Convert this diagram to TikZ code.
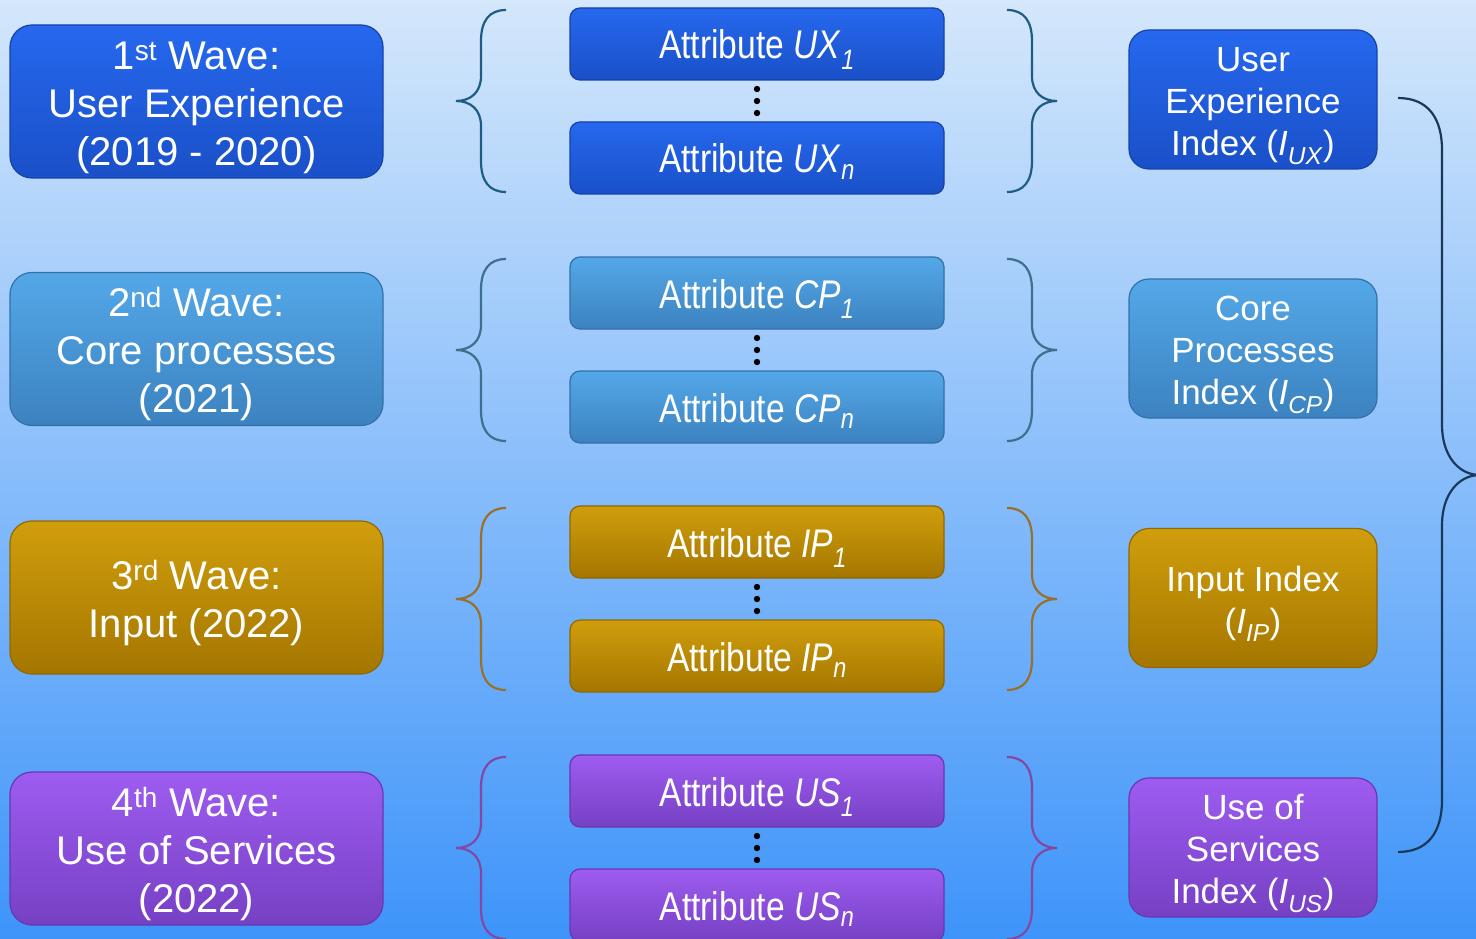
\documentclass[tikz,border=0pt]{standalone}
\usepackage{fontspec}
\setmainfont{Liberation Sans}
\newfontfamily\narrowfont[FakeStretch=0.84]{Liberation Sans}
\usetikzlibrary{positioning}
\newcommand{\topgap}[1]{\rule{0pt}{#1}}

\definecolor{bgtop}{RGB}{212,231,251}
\definecolor{bgbot}{RGB}{62,148,250}
\definecolor{uxtop}{RGB}{38,104,238}
\definecolor{uxbot}{RGB}{26,80,200}
\definecolor{uxedge}{RGB}{22,66,170}
\definecolor{uxbrace}{RGB}{30,92,132}
\definecolor{cptop}{RGB}{84,168,232}
\definecolor{cpbot}{RGB}{60,130,192}
\definecolor{cpedge}{RGB}{52,112,168}
\definecolor{cpbrace}{RGB}{62,112,142}
\definecolor{iptop}{RGB}{208,158,12}
\definecolor{ipbot}{RGB}{164,118,0}
\definecolor{ipedge}{RGB}{146,104,0}
\definecolor{ipbrace}{RGB}{152,112,44}
\definecolor{ustop}{RGB}{158,92,240}
\definecolor{usbot}{RGB}{118,64,196}
\definecolor{usedge}{RGB}{104,56,176}
\definecolor{usbrace}{RGB}{130,72,162}
\definecolor{bigbrace}{RGB}{26,56,88}

\begin{document}
\begin{tikzpicture}[x=1pt,y=-1pt,
    fillrow/.style={top color=#1top, bottom color=#1bot, draw=#1edge, line width=1.2pt},
    wave/.style={rounded corners=22pt, minimum width=373pt, minimum height=153pt, inner sep=0pt,
        text=white, align=center, font=\fontsize{40}{48}\selectfont},
    attr/.style={rounded corners=10pt, minimum width=374pt, minimum height=72pt, inner sep=0pt,
        text=white, font=\narrowfont\fontsize{40}{48}\selectfont, text height=38pt, text depth=8pt},
    index/.style={rounded corners=20pt, minimum width=248pt, minimum height=139pt, inner sep=0pt,
        text=white, align=center, font=\fontsize{35}{42}\selectfont},
    brace/.style={draw=#1brace, line width=2.2pt}]
    % background
    \shade[top color=bgtop, bottom color=bgbot] (0,0) rectangle (1476,939);
    \useasboundingbox (0,0) rectangle (1476,939);
    \clip (0,0) rectangle (1476,939);

    % waves
    \node[wave, fillrow=ux] (w1) at (196.5,101.5) {\topgap{40pt}1\textsuperscript{st} Wave:\\User Experience\\(2019 - 2020)};
    \node[wave, fillrow=cp] (w2) at (196.5,349) {\topgap{40pt}2\textsuperscript{nd} Wave:\\Core processes\\(2021)};
    \node[wave, fillrow=ip] (w3) at (196.5,597.5) {\topgap{40pt}3\textsuperscript{rd} Wave:\\Input (2022)};
    \node[wave, fillrow=us] (w4) at (196.5,848.5) {\topgap{40pt}4\textsuperscript{th} Wave:\\Use of Services\\(2022)};

    % indices
    \node[index, fillrow=ux] (iux) at (1253,99.5) {\topgap{37pt}User\\Experience\\Index (\textit{I}\textsubscript{\textit{UX}})};
    \node[index, fillrow=cp] (icp) at (1253,348.5) {\topgap{37pt}Core\\Processes\\Index (\textit{I}\textsubscript{\textit{CP}})};
    \node[index, fillrow=ip] (iip) at (1253,598) {\topgap{37pt}Input Index\\(\textit{I}\textsubscript{\textit{IP}})};
    \node[index, fillrow=us] (ius) at (1253,847.5) {\topgap{37pt}Use of\\Services\\Index (\textit{I}\textsubscript{\textit{US}})};

    % attributes, dots and braces per wave
    \foreach \n/\yc/\ab in {ux/101/UX, cp/350/CP, ip/599/IP, us/848/US} {
        \node[attr, fillrow=\n] (\n-1) at (757,\yc-57) {Attribute \textit{\ab}\textsubscript{\textit{1}}};
        \node[attr, fillrow=\n] (\n-n) at (757,\yc+57) {Attribute \textit{\ab}\textsubscript{\textit{n}}};
        \foreach \d in {-12,0,12} \fill (757,\yc+\d) circle (3.2pt);
        \draw[brace=\n] (506,\yc-91) .. controls (489,\yc-91) and (481,\yc-80) .. (481,\yc-60)
            -- (481,\yc-25) .. controls (481,\yc-8) and (470,\yc) .. (456,\yc)
            .. controls (470,\yc) and (481,\yc+8) .. (481,\yc+25)
            -- (481,\yc+60) .. controls (481,\yc+80) and (489,\yc+91) .. (506,\yc+91);
        \draw[brace=\n] (1007,\yc-91) .. controls (1024,\yc-91) and (1032,\yc-80) .. (1032,\yc-60)
            -- (1032,\yc-25) .. controls (1032,\yc-8) and (1043,\yc) .. (1057,\yc)
            .. controls (1043,\yc) and (1032,\yc+8) .. (1032,\yc+25)
            -- (1032,\yc+60) .. controls (1032,\yc+80) and (1024,\yc+91) .. (1007,\yc+91);
    }

    % brace over the indices
    \draw[brace=big] (1398,98) .. controls (1428,98) and (1442,118) .. (1442,150)
        -- (1442,425) .. controls (1442,455) and (1458,475) .. (1480,475)
        .. controls (1458,475) and (1442,495) .. (1442,525)
        -- (1442,800) .. controls (1442,832) and (1428,852) .. (1398,852);
\end{tikzpicture}
\end{document}
